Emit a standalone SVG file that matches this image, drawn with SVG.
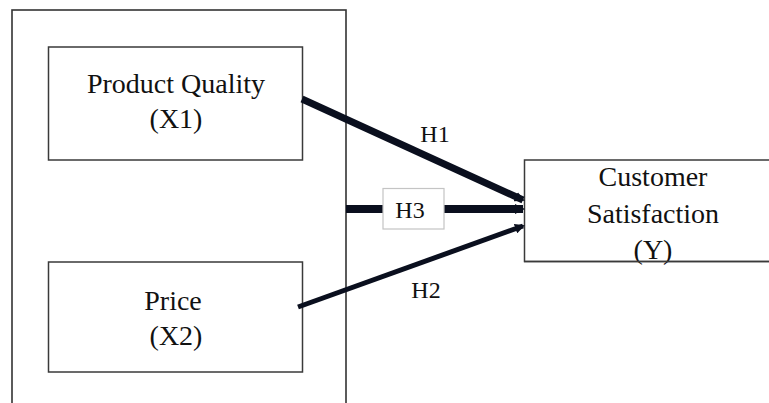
<svg xmlns="http://www.w3.org/2000/svg" width="769" height="403" viewBox="0 0 769 403">
<style>
.box{fill:#fff;stroke:#3a3a3a;stroke-width:1.5}
.t{font-family:"Liberation Serif","Times New Roman",serif;fill:#111;text-anchor:middle}
.big{font-size:28px}
.lab{font-size:24px}
.conn{stroke:#0a0f1e;fill:none}
</style>
<defs>
<marker id="ah" markerWidth="10" markerHeight="10" refX="8" refY="5" orient="auto" markerUnits="userSpaceOnUse" viewBox="0 0 10 10">
<path d="M0,0 L10,5 L0,10 Z" fill="#0a0f1e"/>
</marker>
</defs>
<rect width="769" height="403" fill="#fff"/>
<g id="outer">
<rect x="12" y="10" width="334" height="420" fill="none" stroke="#333" stroke-width="1.6"/>
</g>
<g id="node-x1">
<rect class="box" x="48.5" y="47" width="254" height="113"/>
<text class="t big" x="176" y="93">Product Quality</text>
<text class="t big" x="176" y="128">(X1)</text>
</g>
<g id="node-x2">
<rect class="box" x="48.5" y="262" width="254" height="110"/>
<text class="t big" x="173" y="310">Price</text>
<text class="t big" x="176" y="345">(X2)</text>
</g>
<g id="node-y">
<rect class="box" x="524.5" y="160" width="260" height="101.5"/>
<text class="t big" x="653" y="186">Customer</text>
<text class="t big" x="653" y="223">Satisfaction</text>
<text class="t big" x="653" y="259">(Y)</text>
<line x1="524" y1="261.5" x2="769" y2="261.5" stroke="#3a3a3a" stroke-width="1.5"/>
</g>
<g id="connectors">
<line class="conn" x1="302" y1="99" x2="523" y2="200" stroke-width="7" marker-end="url(#ah)"/>
<line class="conn" x1="346" y1="209" x2="523" y2="209" stroke-width="8" marker-end="url(#ah)"/>
<line class="conn" x1="298" y1="307" x2="523" y2="226" stroke-width="5" marker-end="url(#ah)"/>
</g>
<g id="label-h1">
<text class="t lab" x="435" y="142">H1</text>
</g>
<g id="label-h2">
<text class="t lab" x="426" y="298">H2</text>
</g>
<g id="label-h3">
<rect x="383" y="188.5" width="61" height="40.5" fill="#fff" stroke="#c4c4c4" stroke-width="1.2"/>
<text class="t lab" x="410" y="218">H3</text>
</g>
</svg>
